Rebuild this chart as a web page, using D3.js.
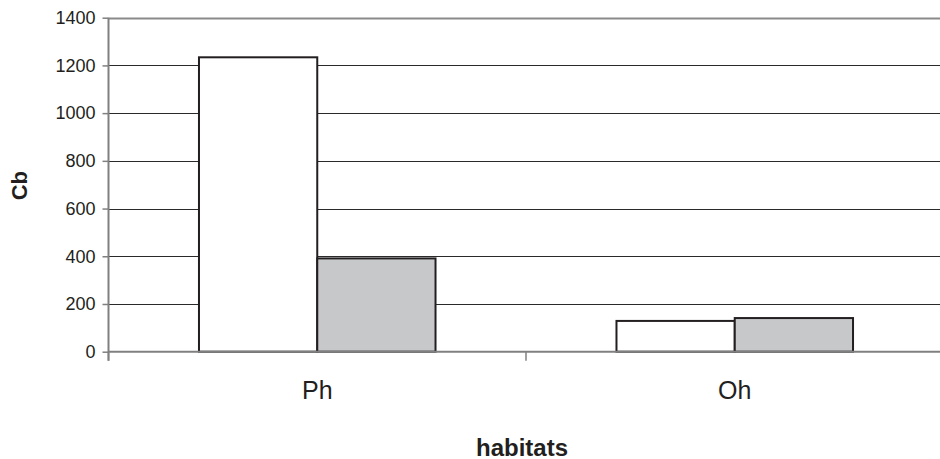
<!DOCTYPE html>
<html>
<head>
<meta charset="utf-8">
<script src="https://cdn.jsdelivr.net/npm/d3@7"></script>
<style>
  html, body { margin: 0; padding: 0; background: #fff; }
  svg { display: block; }
  text { font-family: "Liberation Sans", Arial, sans-serif; fill: #231f20; }
</style>
</head>
<body>
<div id="chart"></div>
<script>
const categories = ["Ph", "Oh"];
const seriesNames = ["s1", "s2"];
const series1 = [1234, 129];
const series2 = [391, 141];
const yTicks = [0, 200, 400, 600, 800, 1000, 1200, 1400];
const xTitle = "habitats";
const yTitle = "Cb";

const W = 940, H = 459;
const mLeft = 108.5, mRight = 943.5, mTop = 17.7, mBottom = 351.7;

const svg = d3.select("#chart").append("svg").attr("width", W).attr("height", H);

const y = d3.scaleLinear().domain([0, 1400]).range([mBottom, mTop]);
const x0 = d3.scaleBand().domain(categories).range([mLeft, mRight]).padding(0);
const x1 = d3.scaleBand().domain(seriesNames).range([0, x0.bandwidth()]).paddingInner(0).paddingOuter(0.765);
const fills = { s1: "#ffffff", s2: "#c7c8ca" };

// gridlines
svg.append("g").selectAll("line")
  .data(yTicks.filter(t => t > 0))
  .join("line")
  .attr("x1", mLeft).attr("x2", W)
  .attr("y1", d => Math.round(y(d)) + 0.5).attr("y2", d => Math.round(y(d)) + 0.5)
  .attr("stroke", d => d === 1400 ? "#8a8a8a" : "#2a2a2a")
  .attr("stroke-width", d => d === 1400 ? 2 : 1);

// bars
const rows = categories.map((c, i) => ({ cat: c, vals: [
  { key: "s1", v: series1[i] }, { key: "s2", v: series2[i] }
]}));
svg.append("g").selectAll("g").data(rows).join("g")
  .attr("transform", d => `translate(${x0(d.cat)},0)`)
  .selectAll("rect").data(d => d.vals).join("rect")
  .attr("x", d => x1(d.key))
  .attr("y", d => y(d.v))
  .attr("width", x1.bandwidth())
  .attr("height", d => y(0) - y(d.v))
  .attr("fill", d => fills[d.key])
  .attr("stroke", "#231f20")
  .attr("stroke-width", 2);

// y axis
const yAxis = d3.axisLeft(y).tickValues(yTicks).tickSize(6).tickPadding(7).tickFormat(d3.format("d"));
const gy = svg.append("g").attr("transform", `translate(${mLeft},0)`).call(yAxis);
gy.select(".domain").attr("stroke", "#808080").attr("stroke-width", 2).attr("d", `M0,${mTop}V${mBottom + 9}`);
gy.selectAll(".tick line").attr("stroke", "#808080").attr("stroke-width", 1.5);
gy.selectAll(".tick text").attr("font-size", 18).attr("font-family", "Liberation Sans, Arial, sans-serif").attr("fill", "#231f20");

// x axis
const gx = svg.append("g").attr("transform", `translate(0,${mBottom})`);
gx.append("line").attr("x1", mLeft).attr("x2", W).attr("y1", 0).attr("y2", 0)
  .attr("stroke", "#808080").attr("stroke-width", 2);
const bounds = [mLeft, ...categories.slice(1).map(c => x0(c)), mRight];
gx.selectAll("line.tk").data(bounds).join("line").attr("class", "tk")
  .attr("x1", d => d).attr("x2", d => d).attr("y1", 0).attr("y2", 9)
  .attr("stroke", "#808080").attr("stroke-width", 1.5);
gx.selectAll("text").data(categories).join("text")
  .attr("x", d => x0(d) + x0.bandwidth() / 2)
  .attr("y", 47)
  .attr("text-anchor", "middle")
  .attr("font-size", 25)
  .text(d => d);

// titles
svg.append("text").attr("x", (mLeft + mRight) / 2 - 4).attr("y", 456)
  .attr("text-anchor", "middle").attr("font-size", 24).attr("font-weight", "bold").text(xTitle);
svg.append("text").attr("transform", `translate(27,${(mTop + mBottom) / 2 + 1}) rotate(-90)`)
  .attr("text-anchor", "middle").attr("font-size", 22).attr("font-weight", "bold").text(yTitle);
</script>
</body>
</html>
